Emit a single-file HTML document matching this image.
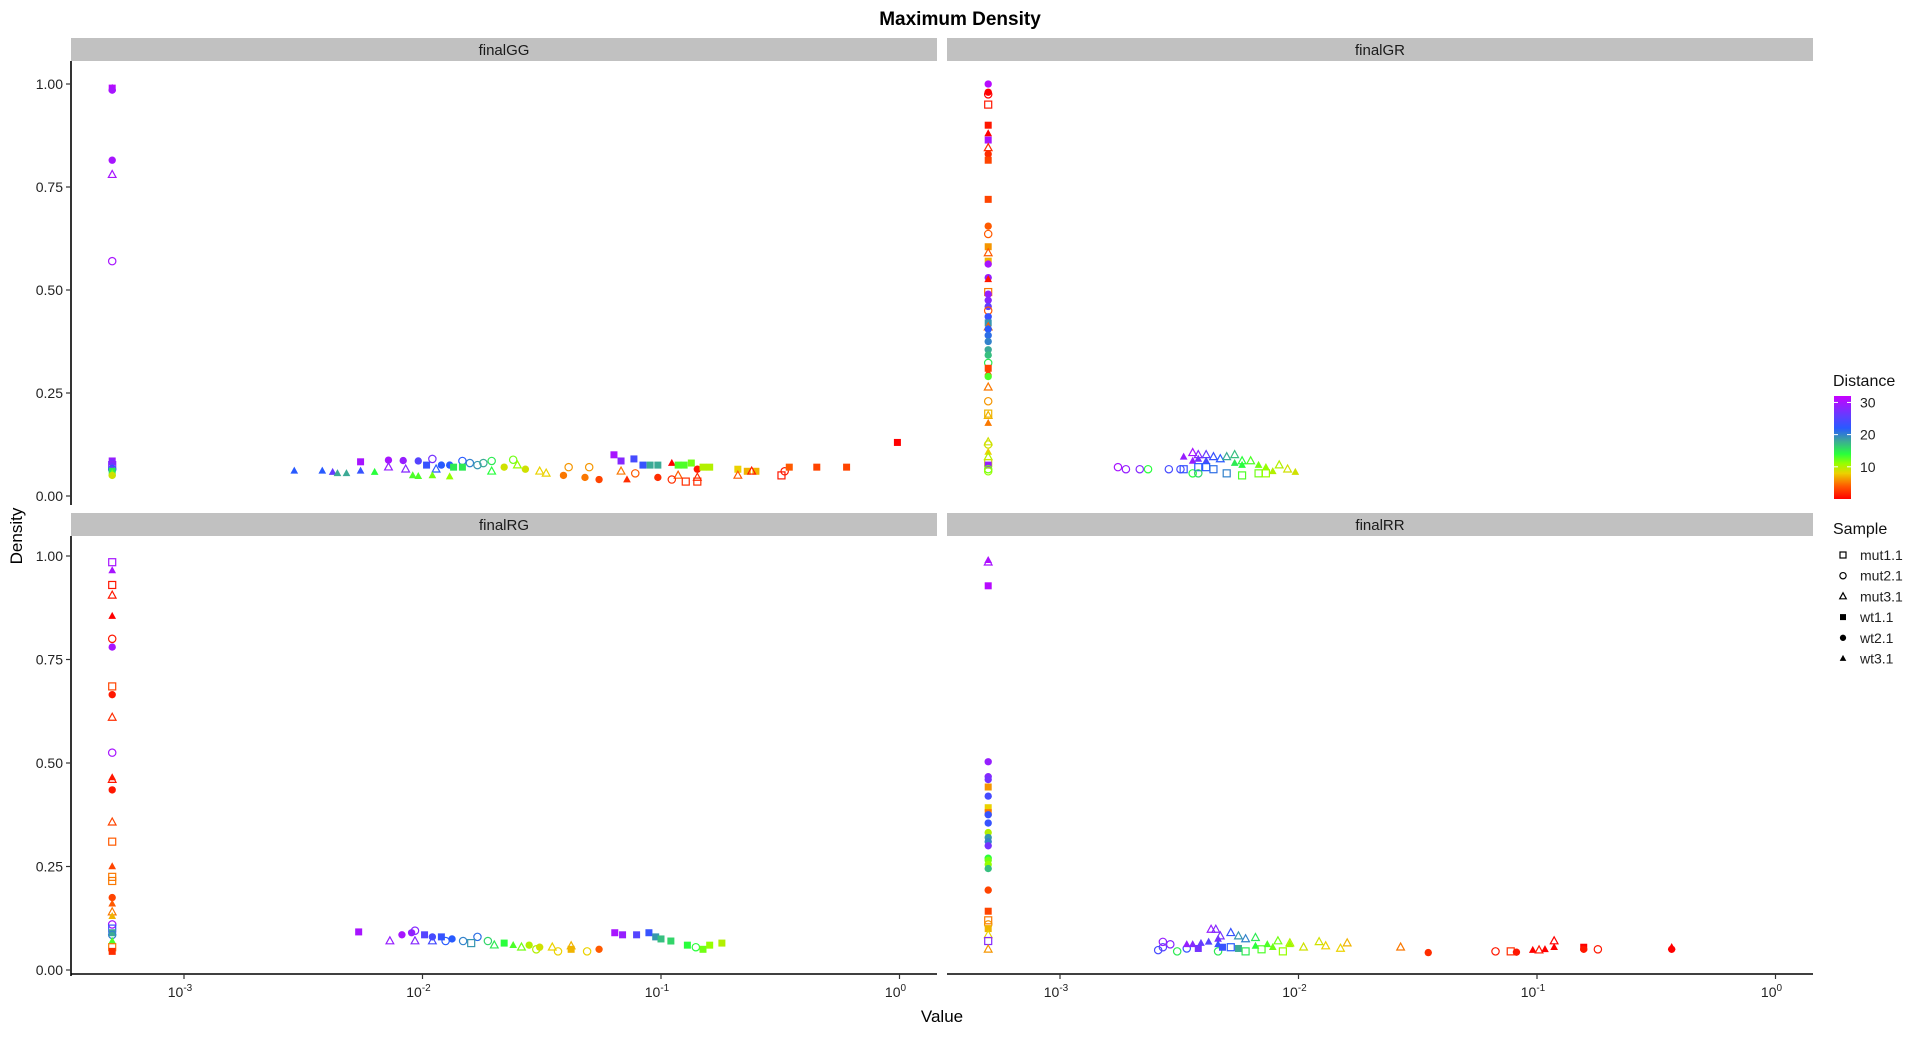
<!DOCTYPE html>
<html><head><meta charset="utf-8"><style>
html,body{margin:0;padding:0;background:#fff;}
svg text{font-family:"Liberation Sans",sans-serif;}
</style></head><body>
<svg id="chart" width="1918" height="1035" xmlns="http://www.w3.org/2000/svg">
<text x="960" y="25" text-anchor="middle" font-size="19" font-weight="bold">Maximum Density</text>
<g id="panels"></g>
<text x="942" y="1022" text-anchor="middle" font-size="17">Value</text>
<text transform="translate(22,536) rotate(-90)" text-anchor="middle" font-size="17">Density</text>
<g id="legend"></g>
</svg>
<script>
// ---- data: [value, density, distance, sampleIndex] ----
const sampleNames = ["mut1.1","mut2.1","mut3.1","wt1.1","wt2.1","wt3.1"];
const panelNames = ["finalGG","finalGR","finalRG","finalRR"];
const yTicks = [0,0.25,0.5,0.75,1.0];
const yTickLabels = ["0.00","0.25","0.50","0.75","1.00"];
const xTickExps = [-3,-2,-1,0];
const colorTicks = [10,20,30];

const dataGG = [
[0.0005,0.99,31,5],[0.0005,0.99,31,3],[0.0005,0.985,30,4],[0.0005,0.815,30,4],[0.0005,0.78,30,2],[0.0005,0.57,30,1],
[0.0005,0.085,29,3],[0.0005,0.08,27,4],[0.0005,0.075,28,0],[0.0005,0.07,26,5],[0.0005,0.065,22,1],[0.0005,0.06,15,3],[0.0005,0.055,12,5],[0.0005,0.05,9,4],
[0.0029,0.061,22,5],[0.0038,0.061,22,5],[0.0042,0.058,26,5],[0.0044,0.055,18,5],[0.0048,0.055,18,5],[0.0055,0.061,23,5],[0.0063,0.058,14,5],
[0.0055,0.083,30,3],[0.0072,0.087,30,4],[0.0072,0.07,29,2],[0.0083,0.086,29,4],[0.0085,0.065,28,2],[0.0096,0.085,25,4],[0.0104,0.075,23,3],
[0.011,0.09,27,1],[0.0114,0.065,22,2],[0.012,0.075,22,4],[0.013,0.075,22,4],[0.0091,0.05,13,5],[0.0096,0.048,13,5],[0.011,0.05,12,5],[0.013,0.047,11,5],
[0.0147,0.085,22,1],[0.0158,0.08,20,1],[0.017,0.075,19,1],[0.018,0.08,18,1],[0.0195,0.085,15,1],[0.024,0.088,12,1],[0.0135,0.07,15,3],[0.0147,0.07,15,3],
[0.0195,0.06,14,2],[0.025,0.075,11,2],[0.022,0.07,9,4],[0.027,0.065,9,4],[0.031,0.06,8,2],[0.033,0.055,8,2],
[0.039,0.05,5,4],[0.041,0.07,6,1],[0.048,0.045,5,4],[0.05,0.07,6,1],[0.055,0.04,3,4],
[0.0635,0.1,30,3],[0.068,0.085,28,3],[0.068,0.06,5,2],[0.072,0.04,2,5],[0.078,0.055,4,1],[0.077,0.09,24,3],[0.084,0.075,23,3],[0.09,0.075,18,3],[0.097,0.075,18,3],
[0.097,0.045,2,4],[0.111,0.08,0,5],[0.118,0.075,13,3],[0.125,0.075,13,3],[0.118,0.05,4,2],[0.111,0.04,2,1],[0.127,0.035,2,0],[0.134,0.08,12,3],[0.142,0.065,1,4],[0.142,0.045,2,2],[0.142,0.035,2,0],
[0.15,0.07,10,3],[0.16,0.07,10,3],[0.21,0.065,8,3],[0.21,0.05,4,2],[0.23,0.06,7,3],[0.25,0.06,7,3],[0.24,0.06,1,2],
[0.32,0.05,1,0],[0.33,0.06,1,1],[0.345,0.07,4,3],[0.45,0.07,3,3],[0.6,0.07,3,3],[0.98,0.13,0,3]
];
const dataGR = [
[0.0005,1.0,31,4],[0.0005,0.98,0,4],[0.0005,0.975,0,1],[0.0005,0.95,1,0],[0.0005,0.9,1,3],[0.0005,0.88,0,5],[0.0005,0.864,30,3],[0.0005,0.845,2,2],[0.0005,0.83,2,4],[0.0005,0.815,3,3],
[0.0005,0.72,3,3],[0.0005,0.655,4,4],[0.0005,0.636,4,1],[0.0005,0.605,6,3],[0.0005,0.59,4,2],[0.0005,0.57,7,3],[0.0005,0.563,30,4],[0.0005,0.53,29,4],[0.0005,0.526,1,5],
[0.0005,0.495,5,0],[0.0005,0.49,29,4],[0.0005,0.475,28,4],[0.0005,0.46,26,4],[0.0005,0.45,4,1],[0.0005,0.435,23,4],[0.0005,0.42,19,3],[0.0005,0.41,4,2],[0.0005,0.405,22,4],
[0.0005,0.39,21,4],[0.0005,0.375,20,4],[0.0005,0.355,18,4],[0.0005,0.342,17,4],[0.0005,0.323,15,1],[0.0005,0.31,3,3],[0.0005,0.3,3,5],[0.0005,0.29,13,4],
[0.0005,0.264,5,2],[0.0005,0.23,6,1],[0.0005,0.2,7,0],[0.0005,0.195,7,2],[0.0005,0.177,5,5],[0.0005,0.131,9,2],[0.0005,0.125,9,1],[0.0005,0.107,8,5],[0.0005,0.095,10,2],
[0.0005,0.08,9,0],[0.0005,0.075,29,3],[0.0005,0.065,12,1],[0.0005,0.06,11,1],
[0.00175,0.07,30,1],[0.00189,0.065,29,1],[0.00216,0.065,28,1],[0.00234,0.065,14,1],[0.00286,0.065,24,1],[0.0032,0.065,24,1],
[0.0033,0.095,29,5],[0.0036,0.105,30,2],[0.0036,0.085,29,5],[0.0033,0.065,23,0],[0.0036,0.055,14,1],[0.0038,0.07,22,0],[0.0038,0.055,16,1],[0.0038,0.1,28,2],[0.0038,0.09,27,5],
[0.0041,0.1,26,2],[0.0041,0.085,24,5],[0.0041,0.07,22,0],[0.0044,0.095,23,2],[0.0044,0.065,21,0],[0.0047,0.09,22,2],[0.005,0.055,20,0],[0.005,0.095,18,2],
[0.0054,0.1,17,2],[0.0054,0.08,15,5],[0.0058,0.085,14,2],[0.0058,0.075,14,5],[0.0058,0.05,13,0],[0.0063,0.085,13,2],[0.0068,0.075,12,5],[0.0068,0.055,12,0],
[0.0073,0.07,11,5],[0.0073,0.055,11,0],[0.0078,0.06,10,5],[0.0083,0.075,10,2],[0.009,0.065,9,2],[0.0097,0.058,9,5]
];
const dataRG = [
[0.0005,0.985,30,0],[0.0005,0.965,30,5],[0.0005,0.93,1,0],[0.0005,0.905,1,2],[0.0005,0.855,0,5],[0.0005,0.8,1,1],[0.0005,0.78,30,4],[0.0005,0.685,3,0],[0.0005,0.665,1,4],
[0.0005,0.61,2,2],[0.0005,0.525,30,1],[0.0005,0.465,1,5],[0.0005,0.46,1,2],[0.0005,0.435,1,4],[0.0005,0.357,3,2],[0.0005,0.31,4,0],[0.0005,0.25,3,5],[0.0005,0.225,5,0],
[0.0005,0.215,5,0],[0.0005,0.175,3,4],[0.0005,0.16,4,5],[0.0005,0.14,5,2],[0.0005,0.13,7,5],[0.0005,0.11,30,1],[0.0005,0.1,23,0],[0.0005,0.09,18,3],[0.0005,0.085,20,1],
[0.0005,0.07,13,5],[0.0005,0.055,5,0],[0.0005,0.045,2,3],
[0.0054,0.092,30,3],[0.0073,0.07,29,2],[0.0082,0.085,30,4],[0.009,0.09,29,4],[0.0093,0.095,28,1],[0.0093,0.07,28,2],[0.0102,0.085,25,3],[0.011,0.08,24,4],[0.011,0.07,24,2],
[0.012,0.08,23,3],[0.0125,0.07,22,1],[0.0133,0.075,22,4],[0.0148,0.07,20,1],[0.017,0.08,21,1],[0.016,0.065,19,0],[0.0188,0.07,16,1],[0.02,0.06,15,2],[0.022,0.065,14,3],
[0.024,0.06,13,5],[0.026,0.055,12,2],[0.028,0.06,10,4],[0.03,0.05,10,1],[0.031,0.055,9,4],[0.035,0.055,8,2],[0.037,0.045,8,1],[0.042,0.05,7,3],[0.042,0.058,7,2],[0.049,0.045,8,1],[0.055,0.05,4,4],
[0.064,0.09,30,3],[0.069,0.085,29,3],[0.079,0.085,25,3],[0.089,0.09,23,3],[0.095,0.08,19,3],[0.1,0.075,17,3],[0.11,0.07,16,3],[0.129,0.06,14,3],[0.14,0.055,14,1],
[0.15,0.05,12,3],[0.16,0.06,11,3],[0.18,0.065,10,3]
];
const dataRR = [
[0.0005,0.99,31,5],[0.0005,0.985,30,2],[0.0005,0.928,31,3],[0.0005,0.503,29,4],[0.0005,0.467,28,4],[0.0005,0.46,27,4],[0.0005,0.442,6,3],[0.0005,0.42,24,4],
[0.0005,0.392,8,3],[0.0005,0.38,5,3],[0.0005,0.375,23,4],[0.0005,0.355,23,4],[0.0005,0.332,10,4],[0.0005,0.32,19,4],[0.0005,0.31,20,4],[0.0005,0.3,27,4],
[0.0005,0.27,14,4],[0.0005,0.265,12,4],[0.0005,0.255,11,4],[0.0005,0.245,17,4],[0.0005,0.193,3,4],[0.0005,0.142,3,3],[0.0005,0.12,5,0],[0.0005,0.11,6,1],
[0.0005,0.1,7,3],[0.0005,0.085,8,2],[0.0005,0.07,28,0],[0.0005,0.05,6,2],
[0.00258,0.048,24,1],[0.0027,0.055,25,1],[0.0027,0.068,29,1],[0.0029,0.062,28,1],[0.0031,0.045,15,1],[0.0034,0.052,23,1],[0.0034,0.062,29,5],[0.0036,0.062,28,5],
[0.0038,0.052,27,3],[0.0039,0.065,26,5],[0.0042,0.068,25,5],[0.0043,0.098,29,2],[0.0045,0.098,28,2],[0.0046,0.075,27,5],[0.0047,0.082,27,2],[0.0046,0.045,15,1],
[0.0046,0.062,23,5],[0.0048,0.055,23,3],[0.0052,0.09,23,2],[0.0052,0.055,22,0],[0.0056,0.082,19,2],[0.0056,0.052,18,3],[0.006,0.075,20,2],[0.006,0.045,15,0],
[0.0066,0.078,15,2],[0.0066,0.058,14,5],[0.007,0.05,13,0],[0.0074,0.062,13,5],[0.0078,0.055,12,5],[0.0082,0.07,12,2],[0.0086,0.045,11,0],[0.0092,0.062,11,5],
[0.0092,0.065,10,2],[0.0105,0.055,9,2],[0.0122,0.068,9,2],[0.013,0.058,8,2],[0.015,0.052,8,2],[0.016,0.065,7,2],[0.0268,0.055,5,2],[0.035,0.042,2,4],
[0.067,0.045,1,1],[0.0776,0.045,2,0],[0.082,0.043,1,4],[0.096,0.048,0,5],[0.102,0.048,1,2],[0.108,0.05,0,5],[0.118,0.07,0,2],[0.118,0.055,0,5],
[0.157,0.055,0,3],[0.157,0.05,1,4],[0.18,0.05,1,1],[0.367,0.055,0,5],[0.367,0.05,0,4]
];
const panelData = [dataGG, dataGR, dataRG, dataRR];

const NS = "http://www.w3.org/2000/svg";
function mk(tag, attrs, parent){const e=document.createElementNS(NS,tag);for(const k in attrs)e.setAttribute(k,attrs[k]);parent.appendChild(e);return e;}

const colorStops=[[0,[255,0,0]],[4,[255,90,0]],[8,[235,210,0]],[11,[150,255,0]],[14,[40,255,60]],[18,[60,170,150]],[22,[40,90,255]],[26,[100,60,255]],[32,[200,0,255]]];
function colorOf(d){
  for(let i=0;i<colorStops.length-1;i++){const [a,ca]=colorStops[i],[b,cb]=colorStops[i+1];
    if(d<=b){const t=Math.max(0,(d-a)/(b-a));return "rgb("+ca.map((c,j)=>Math.round(c+(cb[j]-c)*t)).join(",")+")";}}
  return "rgb(200,0,255)";
}
// panel geometry
const cols=[{x0:71,x1:937},{x0:947,x1:1813}];
const rows=[{s0:38,s1:61,p1:505,y0:496,y1:84},{s0:513,s1:536,p1:976,y0:970,y1:556}];
const DEC=238.5;
function xScale(col,v){return cols[col].x0+113+DEC*(Math.log10(v)+3);}
function yScale(row,v){const r=rows[row];return r.y0+(r.y1-r.y0)*v;}

function drawSymbol(g,s,x,y,col,sz){
  const h=sz/2;let e;
  const filled=s>=3, t=s%3;
  if(t===0) e=mk("rect",{x:x-h,y:y-h,width:sz,height:sz},g);
  else if(t===1) e=mk("circle",{cx:x,cy:y,r:h*1.05},g);
  else e=mk("polygon",{points:`${x},${y-h*1.2} ${x-h*1.1},${y+h*0.8} ${x+h*1.1},${y+h*0.8}`},g);
  if(filled){e.setAttribute("fill",col);}else{e.setAttribute("fill","none");e.setAttribute("stroke",col);e.setAttribute("stroke-width","1.2");}
  return e;
}

const panels=document.getElementById("panels");
for(let p=0;p<4;p++){
  const col=p%2,row=Math.floor(p/2),c=cols[col],r=rows[row];
  const g=mk("g",{},panels);
  
  
  const strip=mk("rect",{x:c.x0,y:r.s0,width:c.x1-c.x0,height:r.s1-r.s0,fill:"#c1c1c1"},g);
  
  
  const st=mk("text",{x:(c.x0+c.x1)/2,y:r.s0+17,"text-anchor":"middle","font-size":"15",fill:"#1a1a1a"},g);
  st.textContent=panelNames[p];
  
  
  if(col===0){
    const ax=mk("line",{x1:c.x0,y1:r.s1,x2:c.x0,y2:r.p1,stroke:"#000","stroke-width":"1.6"},g);
    
    
    yTicks.forEach((v,i)=>{const y=yScale(row,v);
      mk("line",{x1:c.x0-5,y1:y,x2:c.x0,y2:y,stroke:"#333","stroke-width":"1.2"},g);
      const t=mk("text",{x:c.x0-8,y:y+5,"text-anchor":"end","font-size":"14",fill:"#222"},g);
      t.textContent=yTickLabels[i];
      
      
    });
  }
  if(row===1){
    const ax=mk("line",{x1:c.x0,y1:r.p1-2,x2:c.x1,y2:r.p1-2,stroke:"#000","stroke-width":"1.6"},g);
    
    
    xTickExps.forEach(ex=>{const x=xScale(col,Math.pow(10,ex));
      mk("line",{x1:x,y1:r.p1-2,x2:x,y2:r.p1+3,stroke:"#333","stroke-width":"1.2"},g);
      const t=mk("text",{x:x-4,y:r.p1+21,"text-anchor":"middle","font-size":"14",fill:"#222"},g);
      
      
      const a=mk("tspan",{},t);a.textContent="10";
      const b=mk("tspan",{dy:"-6","font-size":"10"},t);b.textContent=String(ex);
    });
  }
  const pts=mk("g",{},g);
  
  
  panelData[p].forEach(d=>{
    const e=drawSymbol(pts,d[3],xScale(col,d[0]),yScale(row,d[1]),colorOf(d[2]),7);
    
    
  });
}

// legend
const lg=document.getElementById("legend");
const lt=mk("text",{x:1833,y:386,"font-size":"16",fill:"#111"},lg);lt.textContent="Distance";


const defs=mk("defs",{},lg);
const grad=mk("linearGradient",{id:"cb",x1:"0",y1:"1",x2:"0",y2:"0"},defs);
const cbMax=32;
colorStops.forEach(s=>mk("stop",{offset:(s[0]/cbMax),"stop-color":colorOf(s[0])},grad));
const cbTop=396,cbBot=499;
const cb=mk("rect",{x:1834,y:cbTop,width:17,height:cbBot-cbTop,fill:"url(#cb)"},lg);


colorTicks.forEach(v=>{const y=cbBot-(cbBot-cbTop)*v/cbMax;
  mk("line",{x1:1834,y1:y,x2:1838,y2:y,stroke:"#fff","stroke-width":"1"},lg);
  mk("line",{x1:1847,y1:y,x2:1851,y2:y,stroke:"#fff","stroke-width":"1"},lg);
  const t=mk("text",{x:1860,y:y+5,"font-size":"14",fill:"#222"},lg);t.textContent=String(v);
  
  
});
const st2=mk("text",{x:1833,y:534,"font-size":"16",fill:"#111"},lg);st2.textContent="Sample";


sampleNames.forEach((n,i)=>{const y=555+i*20.7;
  const e=mk("g",{},lg);
  
  
  drawSymbol(e,i,1843,y,"#000",6);
  const t=mk("text",{x:1860,y:y+5,"font-size":"14",fill:"#222"},e);t.textContent=n;
});
</script>
</body></html>
